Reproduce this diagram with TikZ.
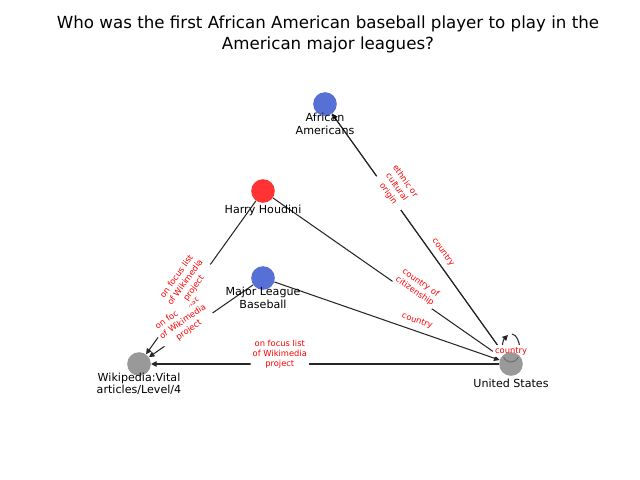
\documentclass[tikz,border=0pt]{standalone}
\usepackage{fontspec}
\setmainfont{DejaVu Sans}
\usetikzlibrary{arrows.meta,backgrounds}
\definecolor{vblue}{RGB}{45,76,204}
\definecolor{vred}{RGB}{255,0,0}
\definecolor{vgray}{RGB}{128,128,128}
\tikzset{
  vertex/.style={circle, inner sep=0pt, minimum size=17pt, fill opacity=0.8},
  vtext/.style={font=\fontsize{8}{9}\selectfont, align=center, inner sep=0pt},
  edge/.style={draw=black!85, line width=0.75pt, -{Triangle[length=4pt,width=4pt]}},
  elabel/.style={font=\fontsize{6}{7.5}\selectfont, text=vred, fill=white,
    rounded corners=2pt, inner sep=1.5pt, align=center},
  onedge/.style={elabel, sloped, yshift=7pt},
}
\begin{document}
\begin{tikzpicture}[x=0.72pt, y=-0.72pt]
\useasboundingbox (0,0) rectangle (640,480);
% title
\node[font=\fontsize{12}{15}\selectfont, align=center, inner sep=0pt] (title) at (328,34)
  {Who was the first African American baseball player to play in the\\American major leagues?};
% entities
\node[vertex, fill=vblue] (aa) at (325,104) {};
\node[vertex, fill=vred] (hh) at (263,191) {};
\node[vertex, fill=vblue] (mlb) at (263,278) {};
\node[vertex, fill=vgray] (wiki) at (139,364) {};
\node[vertex, fill=vgray] (us) at (511,364) {};
\node[vtext] (aa-text) at (325,124) {African\\Americans};
\node[vtext] (hh-text) at (263,210.5) {Harry Houdini};
\node[vtext] (mlb-text) at (263,298) {Major League\\Baseball};
\node[vtext] (wiki-text) at (139,384) {Wikipedia:Vital\\articles/Level/4};
\node[vtext] (us-text) at (511,383.5) {United States};
% relations
\begin{scope}[on background layer]
\draw[edge] (hh) -- (wiki);
\draw[edge] (mlb) -- (wiki);
\path (mlb) -- (wiki) node[onedge, pos=0.62] (mlb-wiki) {on focus list\\of Wikimedia\\project};
\path (hh) -- (wiki) node[onedge, pos=0.57] (hh-wiki) {on focus list\\of Wikimedia\\project};
\draw[edge] (mlb) -- (us) node[onedge, pos=0.62] (mlb-us) {country};
\draw[edge] (hh) -- (us) node[onedge, pos=0.61] (hh-us) {country of\\citizenship};
\draw[edge] (aa) -- (us) node[onedge, pos=0.6] (aa-us) {country};
\draw[edge] (us) -- (aa) node[onedge, pos=0.67] (us-aa) {ethnic or\\cultural\\origin};
\draw[edge] (us) -- (wiki) node[onedge, pos=0.63] (us-wiki) {on focus list\\of Wikimedia\\project};
% self loop
\draw[edge] (512,334) .. controls (521,335) and (524,362) .. (511,362)
  .. controls (499,362) and (502,341) .. (508,335);
\node[elabel] (us-us) at (511,351) {country};
\end{scope}
\end{tikzpicture}
\end{document}
